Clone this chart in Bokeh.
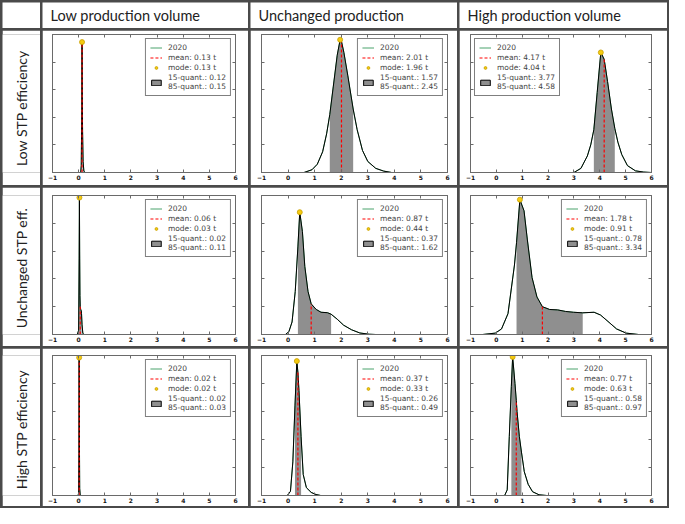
import math
from bokeh.plotting import figure
from bokeh.layouts import row, column
from bokeh.models import Range1d, FixedTicker, LinearAxis, Label, Legend, LegendItem
from bokeh.embed import file_html
from bokeh.resources import INLINE

# ---------------- data ----------------
col_titles = ["Low production volume", "Unchanged production", "High production volume"]
row_titles = ["Low STP efficiency", "Unchanged STP eff.", "High STP efficiency"]

xticks = [-1, 0, 1, 2, 3, 4, 5, 6]
xtick_labels = ["\u22121", "0", "1", "2", "3", "4", "5", "6"]
yticks = [0.2, 0.4, 0.6, 0.8]

series_label = "2020"

# statistics [row][col]  (t)
means = [[0.13, 2.01, 4.17], [0.06, 0.87, 1.78], [0.02, 0.37, 0.77]]
modes = [[0.13, 1.96, 4.04], [0.03, 0.44, 0.91], [0.02, 0.33, 0.63]]
q15s = [[0.12, 1.57, 3.77], [0.02, 0.37, 0.78], [0.02, 0.26, 0.58]]
q85s = [[0.15, 2.45, 4.58], [0.11, 1.62, 3.34], [0.03, 0.49, 0.97]]

# density curves (relative density)
x_lowvol_loweff = [0.0, 0.08, 0.10, 0.12, 0.13, 0.14, 0.15, 0.17, 0.20, 0.25]
y_lowvol_loweff = [0.0, 0.0, 0.05, 0.45, 0.945, 0.55, 0.30, 0.08, 0.01, 0.0]

x_unchvol_loweff = [0.6, 0.9, 1.1, 1.3, 1.45, 1.57, 1.7, 1.85, 1.96, 2.01, 2.1, 2.25, 2.45, 2.6, 2.8, 3.0, 3.3, 3.6, 3.9]
y_unchvol_loweff = [0.0, 0.02, 0.06, 0.15, 0.28, 0.42, 0.62, 0.85, 0.962, 0.95, 0.87, 0.70, 0.46, 0.31, 0.16, 0.08, 0.03, 0.01, 0.0]

x_highvol_loweff = [3.0, 3.27, 3.52, 3.65, 3.77, 3.9, 4.04, 4.17, 4.3, 4.45, 4.58, 4.7, 4.85, 5.07, 5.38, 5.7, 6.0]
y_highvol_loweff = [0.0, 0.03, 0.12, 0.20, 0.31, 0.58, 0.87, 0.82, 0.66, 0.46, 0.32, 0.22, 0.13, 0.05, 0.012, 0.003, 0.0]

x_lowvol_unch = [-0.05, 0.0, 0.02, 0.03, 0.04, 0.05, 0.06, 0.08, 0.10, 0.11, 0.13, 0.16, 0.20]
y_lowvol_unch = [0.0, 0.03, 0.55, 0.985, 0.55, 0.28, 0.20, 0.18, 0.17, 0.15, 0.07, 0.01, 0.0]

x_unchvol_unch = [-0.1, 0.03, 0.15, 0.27, 0.37, 0.44, 0.54, 0.63, 0.75, 0.87, 1.06, 1.24, 1.48, 1.62, 1.85, 2.09, 2.39, 2.7, 3.05, 3.3]
y_unchvol_unch = [0.0, 0.02, 0.09, 0.31, 0.63, 0.88, 0.74, 0.49, 0.31, 0.22, 0.18, 0.16, 0.157, 0.146, 0.11, 0.067, 0.034, 0.011, 0.002, 0.0]

x_highvol_unch = [-0.53, -0.04, 0.2, 0.45, 0.7, 0.78, 0.91, 1.07, 1.2, 1.38, 1.57, 1.78, 2.06, 2.37, 2.67, 2.98, 3.34, 3.78, 4.03, 4.28, 4.65, 5.02, 5.5]
y_highvol_unch = [0.0, 0.01, 0.04, 0.15, 0.50, 0.66, 0.97, 0.89, 0.68, 0.41, 0.27, 0.20, 0.18, 0.177, 0.166, 0.16, 0.156, 0.16, 0.14, 0.10, 0.04, 0.01, 0.0]

x_lowvol_higheff = [-0.02, 0.0, 0.01, 0.02, 0.03, 0.04, 0.06]
y_lowvol_higheff = [0.0, 0.02, 0.30, 0.985, 0.40, 0.05, 0.0]

x_unchvol_higheff = [-0.03, 0.09, 0.18, 0.26, 0.33, 0.37, 0.41, 0.49, 0.57, 0.69, 0.87, 1.05, 1.23]
y_unchvol_higheff = [0.0, 0.03, 0.24, 0.64, 0.96, 0.88, 0.75, 0.42, 0.15, 0.056, 0.022, 0.007, 0.0]

x_highvol_higheff = [0.32, 0.42, 0.5, 0.58, 0.63, 0.72, 0.77, 0.8, 0.89, 0.97, 1.08, 1.23, 1.4, 1.65, 1.95]
y_highvol_higheff = [0.0, 0.04, 0.42, 0.78, 0.99, 0.80, 0.68, 0.60, 0.42, 0.31, 0.17, 0.08, 0.027, 0.005, 0.0]

curves = [
    [(x_lowvol_loweff, y_lowvol_loweff), (x_unchvol_loweff, y_unchvol_loweff), (x_highvol_loweff, y_highvol_loweff)],
    [(x_lowvol_unch, y_lowvol_unch), (x_unchvol_unch, y_unchvol_unch), (x_highvol_unch, y_highvol_unch)],
    [(x_lowvol_higheff, y_lowvol_higheff), (x_unchvol_higheff, y_unchvol_higheff), (x_highvol_higheff, y_highvol_higheff)],
]
legend_locs = [["top_right", "top_right", "top_left"],
               ["top_right", "top_right", "top_right"],
               ["top_right", "top_right", "top_right"]]

# ---------------- layout geometry ----------------
GAP = 2
LINE = "#4a4a4a"
FRAME = "#6a6a6a"
GREEN = "#4aa36c"
SHADE = "#8f8f8f"
col_w = [38, 206, 207, 208]
row_h = [26, 155, 159, 158]
col_borders = [(10, 13), (11, 10), (11, 16)]
row_borders = [(4, 13), (8, 12), (7, 11)]
TEXT_FONT = "Lato"
VERT_SHIFT = 13


def text_cell(w, h, text=None, vertical=False):
    p = figure(width=w, height=h, output_backend="svg", toolbar_location=None,
               x_range=Range1d(0, 1), y_range=Range1d(0, 1), min_border=0,
               x_axis_location=None, y_axis_location=None, outline_line_color=None)
    p.grid.visible = False
    if text:
        if vertical:
            lab = Label(x=w / 2, y=h / 2 - VERT_SHIFT, x_units="screen", y_units="screen",
                        text=text, angle=math.pi / 2, text_align="center",
                        text_baseline="middle", text_font=TEXT_FONT,
                        text_font_size="14px", text_color="#222222")
        else:
            lab = Label(x=8, y=h / 2, x_units="screen", y_units="screen", text=text,
                        text_align="left", text_baseline="middle",
                        text_font=TEXT_FONT, text_font_size="14.5px", text_color="#222222")
        p.add_layout(lab)
    return p


def tick_axis(ticks):
    return LinearAxis(ticker=FixedTicker(ticks=ticks),
                      major_label_overrides={t: "" for t in ticks},
                      major_label_text_font_size="1px",
                      major_label_standoff=0, major_tick_in=3, major_tick_out=0,
                      minor_tick_line_color=None, axis_line_color=FRAME,
                      major_tick_line_color=FRAME)


def panel(r, c):
    cx, cy = curves[r][c]
    mean, mode, q15, q85 = means[r][c], modes[r][c], q15s[r][c], q85s[r][c]
    ml, mr = col_borders[c]
    mt, mb = row_borders[r]
    p = figure(width=col_w[c + 1], height=row_h[r + 1], output_backend="svg",
               toolbar_location=None, x_range=Range1d(-1, 6), y_range=Range1d(0, 1),
               min_border_left=ml, min_border_right=mr, min_border_top=mt,
               min_border_bottom=mb, x_axis_location=None, y_axis_location=None)
    p.grid.visible = False
    p.outline_line_color = FRAME
    p.outline_line_width = 1
    xa = LinearAxis(ticker=FixedTicker(ticks=xticks),
                    major_label_overrides={t: l for t, l in zip(xticks, xtick_labels)},
                    major_tick_in=3, major_tick_out=0, minor_tick_line_color=None,
                    axis_line_color=FRAME, major_tick_line_color=FRAME,
                    major_label_text_font_size="6px", major_label_text_font="DejaVu Sans",
                    major_label_text_color="#111111", major_label_text_font_style="bold",
                    major_label_standoff=2)
    p.add_layout(xa, "below")
    p.add_layout(tick_axis(yticks), "left")
    p.add_layout(tick_axis(xticks), "above")
    p.add_layout(tick_axis(yticks), "right")

    # shaded band between 15 and 85 % quantile
    sx = [x for x in cx if q15 <= x <= q85]
    sy = [y for x, y in zip(cx, cy) if q15 <= x <= q85]
    p.varea(x=sx, y1=[0] * len(sx), y2=sy, fill_color=SHADE)
    r_quant = p.quad(left=[q15], right=[q85], bottom=[0], top=[0], fill_color=SHADE,
                     line_color="black", line_width=1)
    r_series = p.line(cx, cy, line_color=GREEN, line_width=1)
    p.line(cx, cy, line_color="black", line_width=1)
    ymean = cy[cx.index(mean)]
    ymode = cy[cx.index(mode)]
    r_mean = p.segment(x0=[mean], y0=[0], x1=[mean], y1=[ymean], line_color="red",
                       line_dash="3 2", line_width=1.2)
    r_mode = p.scatter([mode], [ymode], size=5, fill_color="#f5cb11", line_color="#c8a000",
                       line_width=0.8)
    legend = Legend(items=[
        LegendItem(label=series_label, renderers=[r_series]),
        LegendItem(label=f"mean: {mean:.2f} t", renderers=[r_mean]),
        LegendItem(label=f"mode: {mode:.2f} t", renderers=[r_mode]),
        LegendItem(label=f"15-quant.: {q15:.2f}\n85-quant.: {q85:.2f}", renderers=[r_quant]),
    ], location=legend_locs[r][c])
    legend.margin = 4
    legend.padding = 4
    legend.spacing = 1
    legend.label_text_font = "DejaVu Sans"
    legend.label_text_font_size = "7.5px"
    legend.label_text_line_height = 1.1
    legend.label_height = 9
    legend.glyph_height = 7
    legend.glyph_width = 12
    legend.label_standoff = 6
    legend.border_line_color = "black"
    legend.border_line_width = 1
    legend.background_fill_alpha = 1
    p.add_layout(legend)
    return p


bg = {"background-color": LINE}
rows = [row(text_cell(col_w[0], row_h[0]),
            *[text_cell(col_w[i + 1], row_h[0], col_titles[i]) for i in range(3)],
            spacing=GAP, styles=bg)]
for r in range(3):
    rows.append(row(text_cell(col_w[0], row_h[r + 1], row_titles[r], vertical=True),
                    *[panel(r, c) for c in range(3)], spacing=GAP, styles=bg))

page = column(*rows, spacing=GAP, styles={"background-color": LINE, "padding": "2px"})

open("out.html", "w").write(file_html(page, INLINE))
